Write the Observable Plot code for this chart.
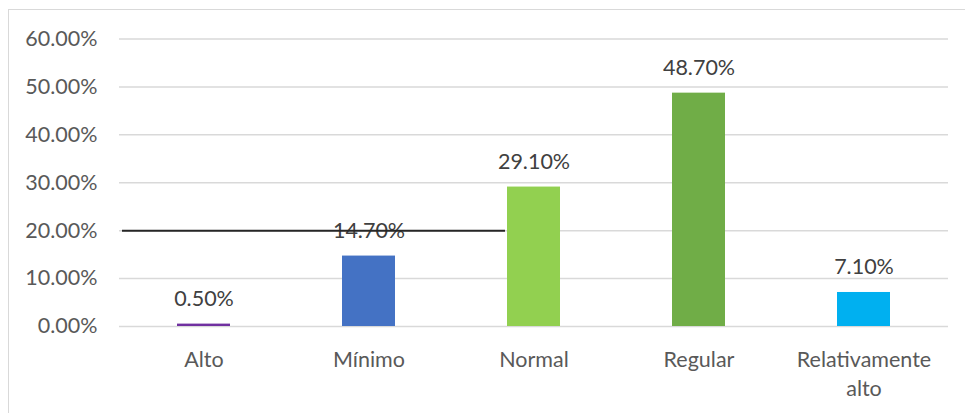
<!DOCTYPE html>
<html>
<head>
<meta charset="utf-8">
<script src="https://cdn.jsdelivr.net/npm/d3@7"></script>
<script src="https://cdn.jsdelivr.net/npm/@observablehq/plot@0.6"></script>
<style>
  html, body { margin: 0; padding: 0; background: #fff; overflow: hidden; width: 965px; height: 413px; }
  #frame { position: absolute; left: 8px; top: 9px; width: 2000px; height: 2000px; border: 1.5px solid #d9d9d9; box-sizing: border-box; }
  #chart { position: absolute; left: 0; top: 0; }
</style>
</head>
<body>
<div id="frame"></div>
<div id="chart"></div>
<script>
const categories = ["Alto", "Mínimo", "Normal", "Regular", "Relativamente alto"];
const values = [0.5, 14.7, 29.1, 48.7, 7.1];
const colors = ["#7030A0", "#4472C4", "#92D050", "#70AD47", "#00B0F0"];
const yTicks = [0, 10, 20, 30, 40, 50, 60];
const refLine = [{y: 20, from: "Alto", to: "Normal"}];

const data = categories.map((c, i) => ({category: c, value: values[i], color: colors[i]}));

const chart = Plot.plot({
  width: 965,
  height: 413,
  marginLeft: 119,
  marginRight: 17,
  marginTop: 38.5,
  marginBottom: 87,
  style: {fontFamily: "Lato, sans-serif", fontSize: "21.5px", color: "#595959", background: "transparent"},
  x: {domain: categories, paddingInner: 0.68, paddingOuter: 0.34, label: null},
  y: {domain: [0, 60], label: null},
  marks: [
    Plot.gridY(yTicks, {stroke: "#d9d9d9", strokeOpacity: 1, strokeWidth: 1.5}),
    Plot.axisY(yTicks, {tickSize: 0, tickPadding: 22, tickFormat: d => d.toFixed(2) + "%", fill: "#595959", fontSize: 21.5, label: null}),
    Plot.axisX({tickSize: 0, tickPadding: 20, tickFormat: d => d.replace(" ", "\n"), lineHeight: 1.35, fill: "#595959", fontSize: 21.5, label: null}),
    Plot.barY(data, {x: "category", y: "value", fill: "color"}),
    Plot.text(data, {x: "category", y: "value", text: d => d.value.toFixed(2) + "%", dy: -25, fill: "#404040", fontSize: 21.5}),
    Plot.ruleY(refLine, {y: "y", x1: "from", x2: "to", dx: -55, stroke: "#262626", strokeWidth: 2})
  ]
});
document.getElementById("chart").appendChild(chart);
</script>
</body>
</html>
